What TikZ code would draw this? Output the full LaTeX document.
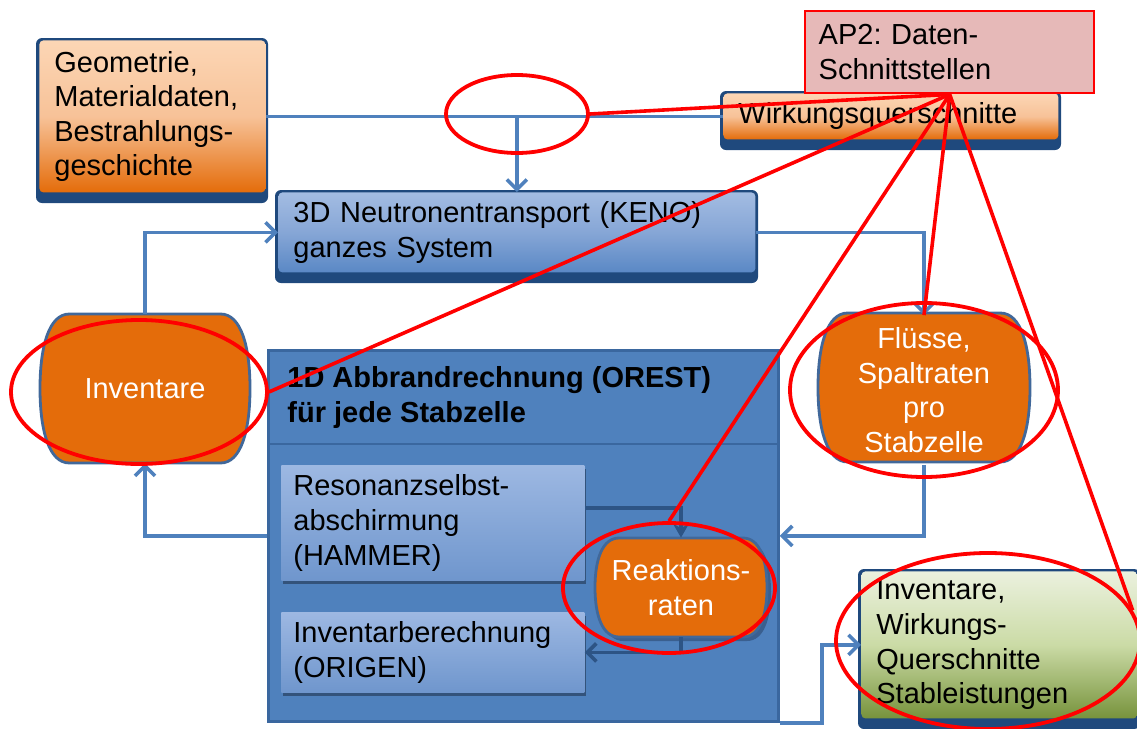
\documentclass[tikz,border=0pt]{standalone}
\usepackage{fontspec}
\setmainfont{Liberation Sans}
\usetikzlibrary{arrows.meta,shapes.geometric,shadows}
\definecolor{frameblue}{HTML}{1F497D}
\definecolor{connblue}{HTML}{4F81BD}
\definecolor{innerblue}{HTML}{2D5485}
\definecolor{bigblue}{HTML}{4F81BD}
\definecolor{bigedge}{HTML}{3A679F}
\definecolor{orangefill}{HTML}{E46C0A}
\definecolor{barreledge}{HTML}{41689A}
\definecolor{barrelshadow}{HTML}{3A5F8F}
\definecolor{pinkfill}{HTML}{E6B9B8}
\definecolor{orangetop}{HTML}{FCD6B5}
\definecolor{orangemid}{HTML}{F7C298}
\definecolor{bluetop}{HTML}{A3BCE2}
\definecolor{bluemid}{HTML}{86A6D6}
\definecolor{bluebot}{HTML}{5A88C5}
\definecolor{lbluetop}{HTML}{9DB8E2}
\definecolor{lbluebot}{HTML}{6F96CD}
\definecolor{greentop}{HTML}{EBF1DE}
\definecolor{greenmid}{HTML}{CBDBA6}
\definecolor{greenbot}{HTML}{77933C}
\definecolor{annot}{HTML}{FF0000}

\tikzset{
  orangegrad/.style={top color=orangetop, bottom color=orangefill, middle color=orangemid},
  bluegrad/.style={top color=bluetop, bottom color=bluebot, middle color=bluemid},
  greengrad/.style={top color=greentop, bottom color=greenbot, middle color=greenmid},
  lightgrad/.style={top color=lbluetop, bottom color=lbluebot},
  barrelfill/.style={fill=orangefill, draw=barreledge, line width=1.4pt},
  barreltext/.style={shape=rectangle, inner sep=0pt, text=white, align=center},
  conn/.style={draw=connblue, line width=1.8pt, -{Straight Barb[length=5pt,width=10pt,line width=1.8pt]}},
  connplain/.style={draw=connblue, line width=1.8pt},
  innerconn/.style={draw=innerblue, line width=1.8pt, -{Straight Barb[length=4.5pt,width=9pt,line width=1.8pt]}},
  innertri/.style={draw=innerblue, line width=1.8pt, -{Stealth[length=7pt,width=8pt]}},
  redell/.style={ellipse, draw=annot, line width=1.9pt, inner sep=0pt},
  redline/.style={draw=annot, line width=1.8pt},
  subbox/.style={lightgrad, anchor=north west, inner sep=0pt, inner xsep=6pt, align=left,
    drop shadow={shadow xshift=1pt, shadow yshift=-2pt, fill=black, opacity=0.35}},
}

% bevelled box: name, x0, y0, x1, y1, shading style, text
\newcommand\bevelbox[7]{%
  \pgfmathsetmacro\bbw{(#4-#2-6)*0.5}%
  \pgfmathsetmacro\bbh{(#5-#3-13)*0.5}%
  \pgfmathsetmacro\bbt{(#4-#2-6)*0.5-15}%
  \fill[frameblue, rounded corners=3pt] (#2,#3) rectangle (#4,#5);
  \node[#6, anchor=north west, inner sep=0pt, inner xsep=7.5pt, rounded corners=2pt,
    minimum width=\bbw pt, minimum height=\bbh pt, text width=\bbt pt, align=left]
    (#1) at ({#2+3},{#3+2}) {#7};
}
% barrel outline: style, x0, y0, x1, y1
\newcommand\barrelshape[5]{%
  \pgfmathsetmacro\brc{0.14*(#4-#2)}%
  \pgfmathsetmacro\brm{(#3+#5)/2}%
  \pgfmathsetmacro\brh{0.22*(#5-#3)}%
  \path[#1] ({#2+\brc},#3) -- ({#4-\brc},#3)
    .. controls ({#4-0.3*\brc},#3) and (#4,{#3+\brh}) .. (#4,\brm)
    .. controls (#4,{#5-\brh}) and ({#4-0.3*\brc},#5) .. ({#4-\brc},#5)
    -- ({#2+\brc},#5)
    .. controls ({#2+0.3*\brc},#5) and (#2,{#5-\brh}) .. (#2,\brm)
    .. controls (#2,{#3+\brh}) and ({#2+0.3*\brc},#3) .. cycle;
}

\begin{document}
\frenchspacing
\begin{tikzpicture}[x=0.5pt, y=-0.5pt, font=\fontsize{14.5}{17.3}\selectfont\frenchspacing]
\useasboundingbox (0,0) rectangle (1137,729);

% upper boxes
\bevelbox{geo}{36}{38}{268}{203}{orangegrad}{Geometrie,\\Materialdaten,\\Bestrahlungs-\\geschichte}
\bevelbox{wq}{720}{91}{1061}{150}{orangegrad}{Wirkungsquerschnitte}
\node[fill=pinkfill, draw=annot, line width=1.2pt, anchor=north west, inner sep=0pt, inner xsep=6pt,
  minimum width=144.5pt, minimum height=41pt, text width=131pt, align=left]
  (ap2) at (804,10) {AP2: Daten-\\Schnittstellen};
\bevelbox{neu}{275}{190}{758}{283}{bluegrad}{3D Neutronentransport (KENO)\\ganzes System}

% big OREST box
\node[fill=bigblue, draw=bigedge, line width=1.4pt, anchor=north west, inner sep=0pt,
  minimum width=255pt, minimum height=185.5pt] (orest) at (267,349) {};
\draw[bigedge, line width=1.4pt] ([yshift=-47.5pt]orest.north west) -- ([yshift=-47.5pt]orest.north east);
\node[anchor=north west, inner sep=0pt, align=left, font=\fontsize{14.5}{17.3}\selectfont\bfseries]
  (orestt) at (287,366) {1D Abbrandrechnung (OREST)\\für jede Stabzelle};
\node[subbox, minimum width=151.5pt, minimum height=57.5pt, text width=139.5pt] (res) at (281,465)
  {Resonanzselbst-\\abschirmung\\(HAMMER)};
\node[subbox, minimum width=151.5pt, minimum height=40pt, text width=139.5pt] (inb) at (281,612)
  {Inventarberechnung\\(ORIGEN)};

% barrels
\barrelshape{fill=barrelshadow, shift={(4,4)}}{595}{538}{767}{637}
\barrelshape{barrelfill}{595}{538}{767}{637}
\node[barreltext, minimum width=86pt, minimum height=49.5pt] (rea) at (681,587.5) {Reaktions-\\raten};
\barrelshape{barrelfill}{40}{314}{250}{463}
\node[barreltext, minimum width=105pt, minimum height=74.5pt] (inv) at (145,388.5) {Inventare};
\barrelshape{barrelfill}{818}{313}{1030}{462}
\node[barreltext, minimum width=106pt, minimum height=74.5pt] (flu) at (924,390) {Flüsse,\\Spaltraten\\pro\\Stabzelle};

% result box
\bevelbox{res2}{858}{569}{1140}{729}{greengrad}{Inventare,\\Wirkungs-\\Querschnitte\\Stableistungen}

% blue connectors
\draw[connplain] (geo.east) -- (wq.west);
\draw[conn] (geo.east -| neu.north) -- (neu.north);
\draw[conn] (neu.east) -| (flu.north);
\draw[conn] (inv.north) |- (neu.west);
\draw[conn] (orest.west) -| (inv.south);
\draw[conn] (flu.south) |- (orest.east);
\draw[conn] (orest.south east) -- ++(42,0) |- (res2.west);
\draw[innertri] ([yshift=7.5pt]res.east) -| (rea.north);
\draw[innerconn] (rea.south) |- (inb.east);

% red annotations
\node[redell, minimum width=71pt, minimum height=39pt] (e1) at (517,114) {};
\node[redell, minimum width=128pt, minimum height=72pt] (e2) at (139,392) {};
\node[redell, minimum width=134pt, minimum height=87pt] (e3) at (924,390) {};
\node[redell, minimum width=106pt, minimum height=65pt] (e4) at (669,588) {};
\node[redell, minimum width=152pt, minimum height=88pt] (e5) at (988,641) {};
\coordinate (p) at (ap2.south);
\draw[redline] (p) -- (e1.east);
\draw[redline] (p) -- (e2.east);
\draw[redline] (p) -- (flu.north);
\draw[redline] (p) -- (e4.north);
\draw[redline] (p) -- (e5.12);
\end{tikzpicture}
\end{document}
